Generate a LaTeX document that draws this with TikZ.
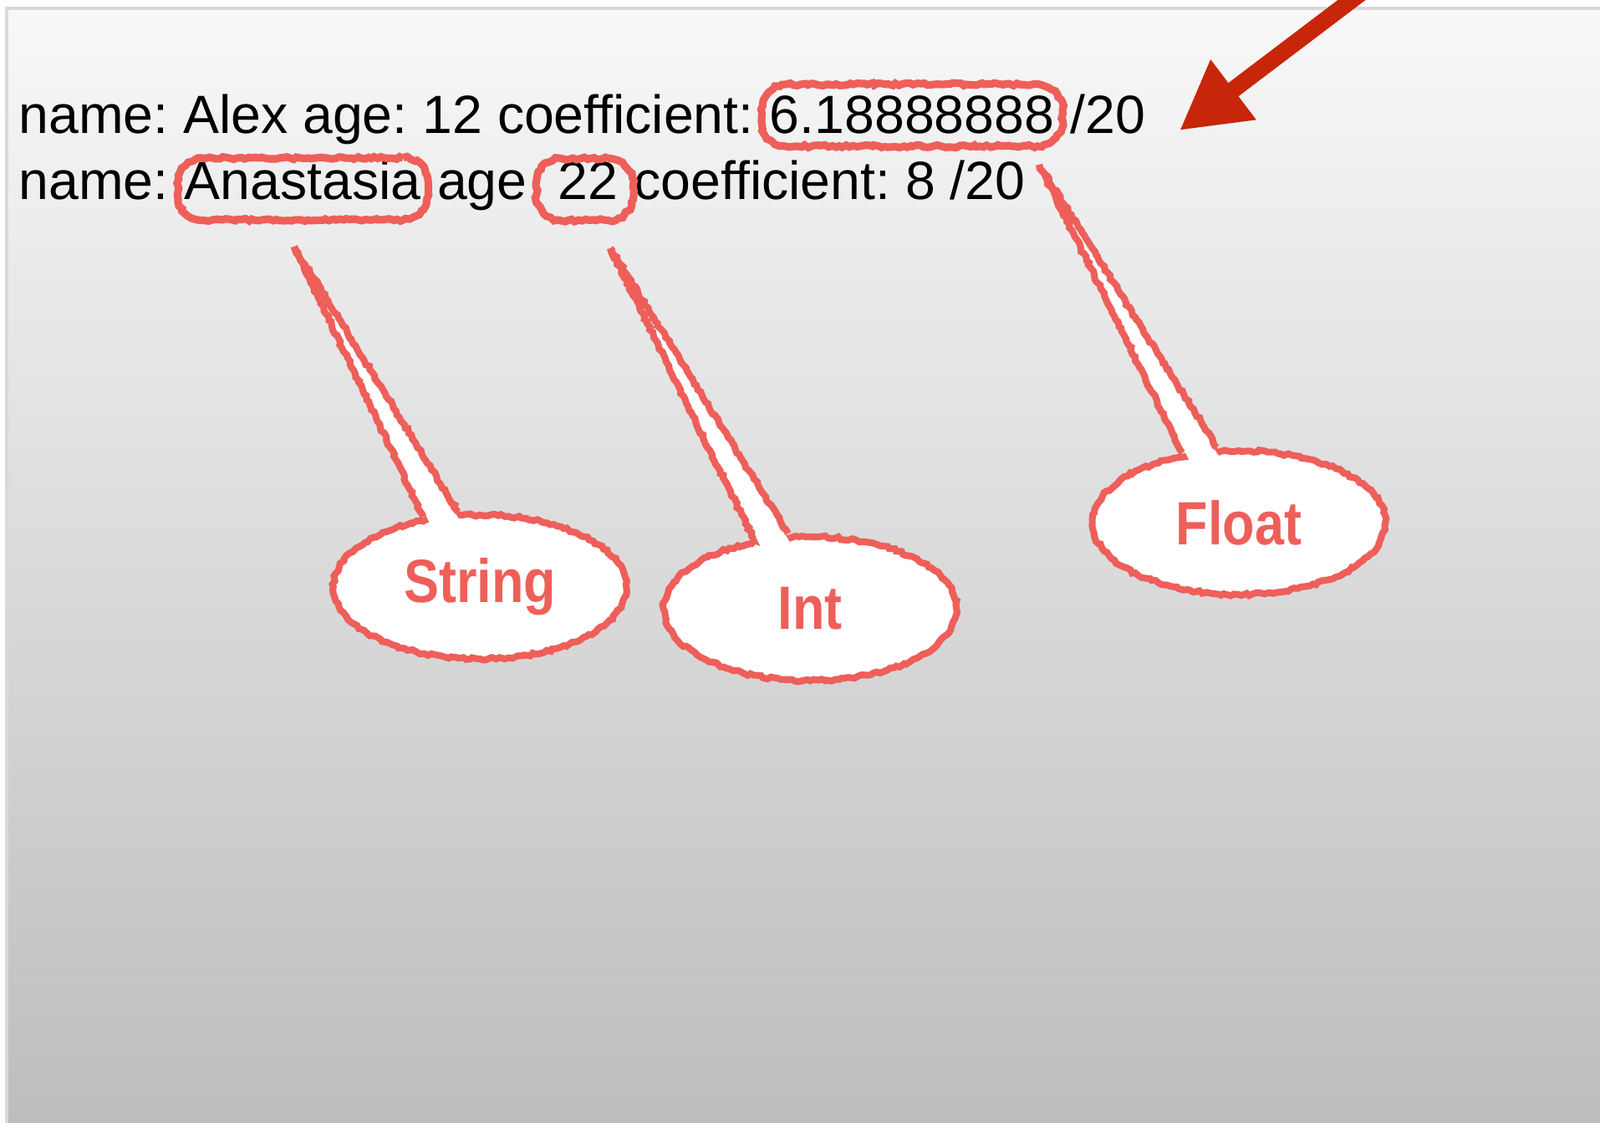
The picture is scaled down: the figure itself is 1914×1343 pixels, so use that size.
\documentclass[tikz,border=0pt]{standalone}
\usepackage{fontspec}
\setmainfont{Liberation Sans}
\newfontfamily\tagfont{Liberation Sans}[FakeStretch=0.86]
\usetikzlibrary{positioning,calc,shapes.geometric,decorations.pathmorphing,arrows.meta}
\definecolor{pencil}{HTML}{EE5F5A}
\definecolor{pointer}{HTML}{C8260A}
\definecolor{bgtop}{HTML}{F8F8F8}
\definecolor{bgbot}{HTML}{BDBDBD}
\frenchspacing

\begin{document}
\begin{tikzpicture}[x=0.01cm, y=-0.01cm]
	\tikzstyle{word}   = [inner sep=0pt, text=black, font=\fontsize{18.3}{22}\selectfont]
	\tikzstyle{sketch} = [draw=pencil, line width=2.3pt, decorate, decoration={random steps, segment length=1.2pt, amplitude=0.45pt}]
	\tikzstyle{ring}   = [rectangle, rounded corners=0.3cm, inner sep=0pt, minimum height=0.74cm,
	                      postaction={sketch, line width=2.6pt, sharp corners}]
	\tikzstyle{bubble} = [sketch, ellipse, fill=white, minimum width=3.5cm, minimum height=1.72cm, inner sep=0pt, text=pencil, font=\tagfont\bfseries\fontsize{20.8}{24}\selectfont]

	\useasboundingbox (0,0) rectangle (1914,1343);
	\clip (0,0) rectangle (1914,1343);
	\shade[top color=bgtop, bottom color=bgbot] (8,10) rectangle (1914,1343);
	\draw[black!15, line width=1pt] (8,1343) -- (8,10) -- (1914,10);

	% first record
	\node[word, anchor=base west] (alex) at (22,160) {name: Alex age: 12 coefficient:};
	\node[word, base right=0.18cm of alex] (coef) {6.18888888};
	\node[word, base right=0.18cm of coef] (outof1) {/20};

	% second record
	\node[word, anchor=base west] (name2) at (22,239) {name:};
	\node[word, base right=0.18cm of name2] (anastasia) {Anastasia};
	\node[word, base right=0.18cm of anastasia] (age2) {age};
	\node[word, base right=0.36cm of age2] (years) {22};
	\node[word, base right=0.18cm of years] (rest2) {coefficient: 8 /20};

	% pencil rings
	\node[ring, minimum width=3.6cm] (coefring) at (coef) {};
	\node[ring, minimum width=3.0cm, yshift=-0.1cm] (namering) at (anastasia) {};
	\node[ring, minimum width=1.16cm, xshift=-0.04cm, yshift=-0.1cm] (agering) at (years) {};

	% callouts
	\foreach \name/\x/\y/\txt in {string/574/702/String, int/969/728/Int, float/1482/625/Float}
		\node[bubble] (\name) at (\x,\y) {\txt};

	\coordinate (string-tip) at (352,295);
	\coordinate (int-tip) at (730,297);
	\coordinate (float-tip) at (1243,197);

	\foreach \name in {string, int, float} {
		\fill[white] (\name-tip) -- ($(\name.129)!0.15!(\name.center)$) -- ($(\name.106)!0.15!(\name.center)$) -- cycle;
		\draw[sketch] (\name-tip) -- (\name.129);
		\draw[sketch] (\name-tip) -- (\name.106);
	}

	% big arrow
	\coordinate (pointer-tail) at (1650,-25);
	\coordinate (pointer-tip) at (1411,156);
	\draw[pointer, line width=5.7pt, -{Triangle[length=23pt, width=24pt]}] (pointer-tail) -- (pointer-tip);
\end{tikzpicture}
\end{document}
